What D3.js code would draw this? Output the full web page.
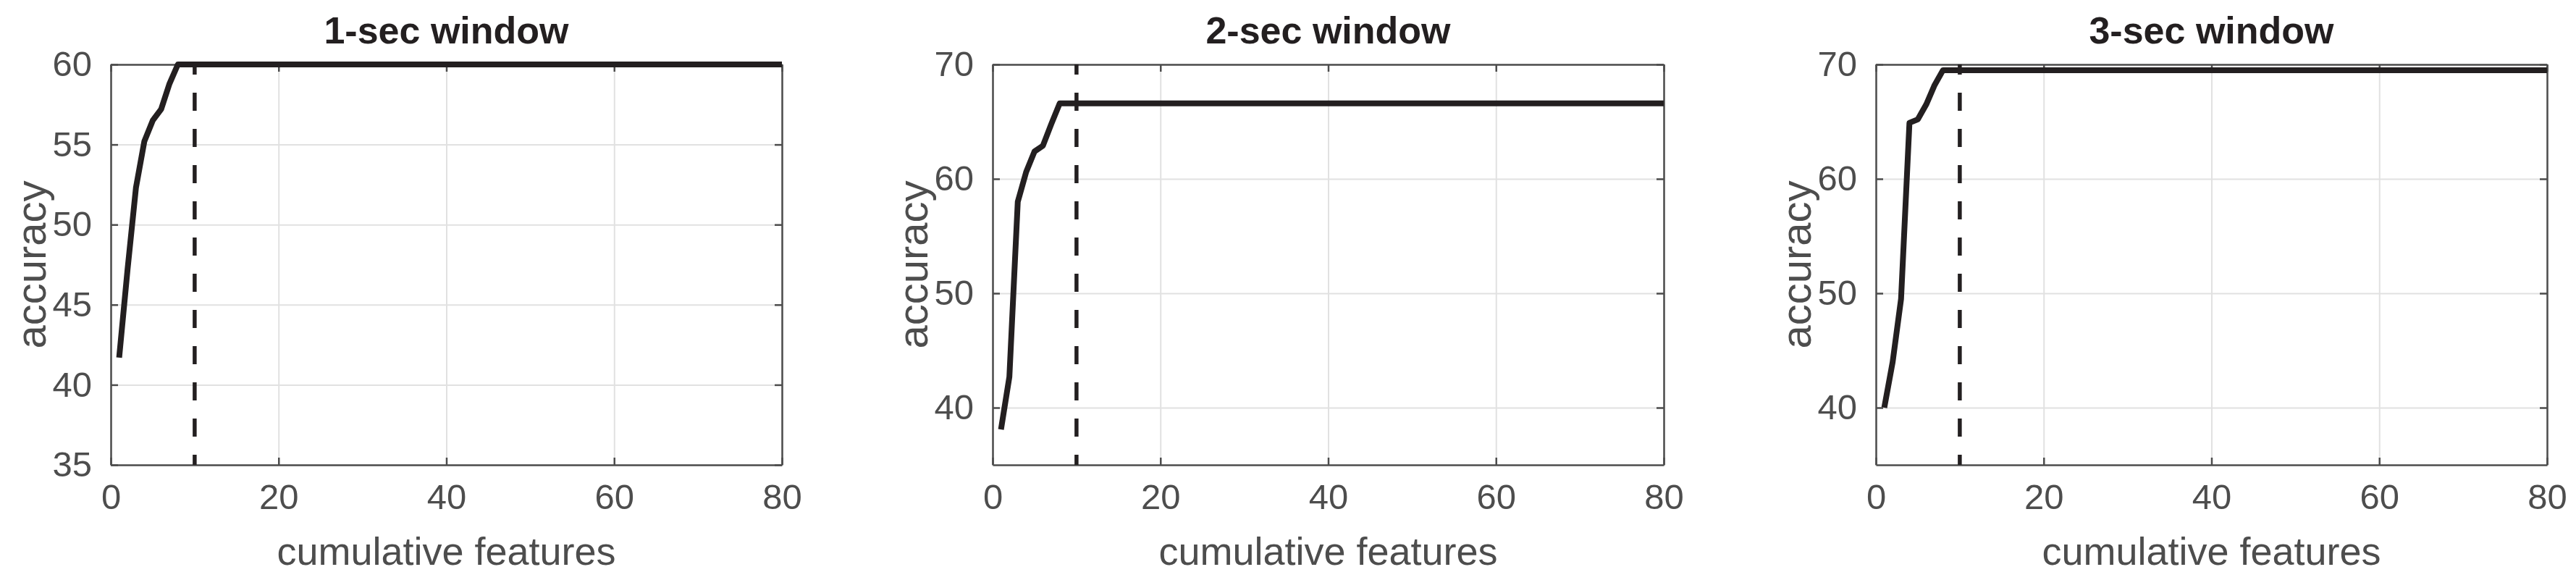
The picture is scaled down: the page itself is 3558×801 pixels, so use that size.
<!DOCTYPE html>
<html><head><meta charset="utf-8">
<script src="https://cdn.jsdelivr.net/npm/d3@7"></script>
<style>body{margin:0;background:#fff;} svg{display:block;}</style>
</head><body>
<svg id="chart" width="3558" height="801"></svg>
<script>
// ---------------- data ----------------
const titles = ["1-sec window", "2-sec window", "3-sec window"];
const features = d3.range(1, 81); // cumulative feature count 1..80
const acc1sec = [41.7, 47.2, 52.3, 55.2, 56.5, 57.2, 58.8, 60.0,
  60, 60, 60, 60, 60, 60, 60, 60, 60, 60, 60, 60, 60, 60, 60, 60, 60, 60, 60, 60,
  60, 60, 60, 60, 60, 60, 60, 60, 60, 60, 60, 60, 60, 60, 60, 60, 60, 60, 60, 60,
  60, 60, 60, 60, 60, 60, 60, 60, 60, 60, 60, 60, 60, 60, 60, 60, 60, 60, 60, 60,
  60, 60, 60, 60, 60, 60, 60, 60, 60, 60, 60, 60];
const acc2sec = [38.1, 42.7, 58.0, 60.6, 62.4, 62.9, 64.8, 66.6,
  66.6, 66.6, 66.6, 66.6, 66.6, 66.6, 66.6, 66.6, 66.6, 66.6, 66.6, 66.6, 66.6, 66.6, 66.6, 66.6, 66.6, 66.6, 66.6, 66.6,
  66.6, 66.6, 66.6, 66.6, 66.6, 66.6, 66.6, 66.6, 66.6, 66.6, 66.6, 66.6, 66.6, 66.6, 66.6, 66.6, 66.6, 66.6, 66.6, 66.6,
  66.6, 66.6, 66.6, 66.6, 66.6, 66.6, 66.6, 66.6, 66.6, 66.6, 66.6, 66.6, 66.6, 66.6, 66.6, 66.6, 66.6, 66.6, 66.6, 66.6,
  66.6, 66.6, 66.6, 66.6, 66.6, 66.6, 66.6, 66.6, 66.6, 66.6, 66.6, 66.6];
const acc3sec = [40.0, 44.0, 49.5, 64.9, 65.2, 66.5, 68.2, 69.5,
  69.5, 69.5, 69.5, 69.5, 69.5, 69.5, 69.5, 69.5, 69.5, 69.5, 69.5, 69.5, 69.5, 69.5, 69.5, 69.5, 69.5, 69.5, 69.5, 69.5,
  69.5, 69.5, 69.5, 69.5, 69.5, 69.5, 69.5, 69.5, 69.5, 69.5, 69.5, 69.5, 69.5, 69.5, 69.5, 69.5, 69.5, 69.5, 69.5, 69.5,
  69.5, 69.5, 69.5, 69.5, 69.5, 69.5, 69.5, 69.5, 69.5, 69.5, 69.5, 69.5, 69.5, 69.5, 69.5, 69.5, 69.5, 69.5, 69.5, 69.5,
  69.5, 69.5, 69.5, 69.5, 69.5, 69.5, 69.5, 69.5, 69.5, 69.5, 69.5, 69.5];
const seriesValues = [acc1sec, acc2sec, acc3sec];
const xDomain = [0, 80];
const xTicks = [0, 20, 40, 60, 80];
const yDomains = [[35, 60], [35, 70], [35, 70]];
const yTicks = [[35, 40, 45, 50, 55, 60], [40, 50, 60, 70], [40, 50, 60, 70]];
const yTickLabels = [["35", "40", "45", "50", "55", "60"], ["40", "50", "60", "70"], ["40", "50", "60", "70"]];
const cutoff = [10, 10, 10];
const xLabel = "cumulative features";
const yLabel = "accuracy";

// ---------------- layout ----------------
const panelLeft = [153, 1371, 2591];
const panelW = 927, plotTop = 89, plotBottom = 642, panelH = plotBottom - plotTop;
const axisColor = "#4d4d4d", gridColor = "#e1e1e1", inkColor = "#231f20";
const font = "'Liberation Sans', Arial, Helvetica, sans-serif";

const svg = d3.select("#chart");

titles.forEach((title, i) => {
  const g = svg.append("g").attr("transform", `translate(${panelLeft[i]},${plotTop})`);
  const x = d3.scaleLinear().domain(xDomain).range([0, panelW]);
  const y = d3.scaleLinear().domain(yDomains[i]).range([panelH, 0]);

  // grid
  g.append("g").attr("class", "grid")
    .call(d3.axisBottom(x).tickValues(xTicks).tickSize(panelH).tickFormat(""))
    .call(s => { s.select(".domain").remove(); s.selectAll("line").attr("stroke", gridColor).attr("stroke-width", 2); });
  g.append("g").attr("class", "grid")
    .call(d3.axisLeft(y).tickValues(yTicks[i]).tickSize(-panelW).tickFormat(""))
    .call(s => { s.select(".domain").remove(); s.selectAll("line").attr("stroke", gridColor).attr("stroke-width", 2); });

  // axes (box with inward ticks)
  const styleAxis = s => {
    s.select(".domain").attr("stroke", axisColor).attr("stroke-width", 2.5);
    s.selectAll(".tick line").attr("stroke", axisColor).attr("stroke-width", 2.5);
    s.selectAll("text").attr("fill", axisColor).attr("font-family", font).attr("font-size", 49);
  };
  g.append("g").attr("transform", `translate(0,${panelH})`)
    .call(d3.axisBottom(x).tickValues(xTicks).tickSizeInner(-10).tickSizeOuter(0).tickPadding(26))
    .call(styleAxis);
  g.append("g")
    .call(d3.axisTop(x).tickValues(xTicks).tickSizeInner(-10).tickSizeOuter(0).tickFormat(""))
    .call(styleAxis);
  g.append("g")
    .call(d3.axisLeft(y).tickValues(yTicks[i]).tickSizeInner(-10).tickSizeOuter(0).tickPadding(26)
      .tickFormat((d, k) => yTickLabels[i][k]))
    .call(styleAxis);
  g.append("g").attr("transform", `translate(${panelW},0)`)
    .call(d3.axisRight(y).tickValues(yTicks[i]).tickSizeInner(-10).tickSizeOuter(0).tickFormat(""))
    .call(styleAxis);

  // dashed cutoff line
  g.append("line")
    .attr("x1", x(cutoff[i])).attr("x2", x(cutoff[i]))
    .attr("y1", 0).attr("y2", panelH)
    .attr("stroke", inkColor).attr("stroke-width", 5.5)
    .attr("stroke-dasharray", "25,25").attr("stroke-dashoffset", 11);

  // accuracy curve
  const line = d3.line().x((d, k) => x(features[k])).y(d => y(d));
  g.append("path").datum(seriesValues[i])
    .attr("d", line)
    .attr("fill", "none").attr("stroke", inkColor)
    .attr("stroke-width", 8).attr("stroke-linejoin", "round");

  // title
  g.append("text").attr("x", panelW / 2).attr("y", 60 - plotTop)
    .attr("text-anchor", "middle").attr("font-family", font)
    .attr("font-weight", "bold").attr("font-size", 52).attr("fill", inkColor)
    .text(title);
  // x label
  g.append("text").attr("x", panelW / 2).attr("y", 780 - plotTop)
    .attr("text-anchor", "middle").attr("font-family", font)
    .attr("font-size", 54).attr("fill", axisColor).text(xLabel);
  // y label
  g.append("text")
    .attr("transform", `translate(-110,${panelH / 2}) rotate(-90)`)
    .attr("text-anchor", "middle").attr("dy", "0.35em").attr("font-family", font)
    .attr("font-size", 58).attr("fill", axisColor).text(yLabel);
});
</script>
</body></html>
